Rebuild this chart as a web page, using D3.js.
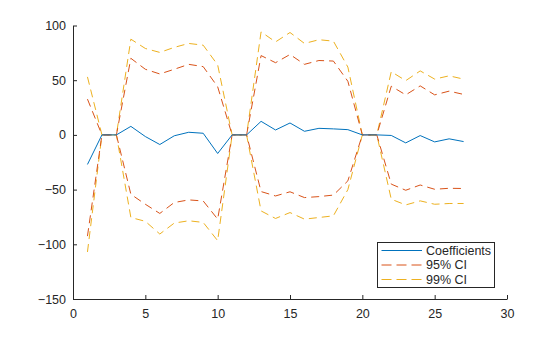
<!DOCTYPE html>
<html>
<head>
<meta charset="utf-8">
<script src="https://cdn.jsdelivr.net/npm/d3@7/dist/d3.min.js"></script>
<style>
  html, body { margin: 0; padding: 0; background: #fff; }
  svg { display: block; font-family: "Liberation Sans", Arial, sans-serif; }
</style>
</head>
<body>
<svg id="chart" width="560" height="337"></svg>
<script>
// Lag index 1..27
const lags = d3.range(1, 28);

// Estimated coefficients per lag
const coefficients = [-27, 0, 0, 7.8, -1.5, -8.8, -0.8, 2.4, 1.5, -17, 0, 0,
  12.4, 4.5, 10.9, 3.3, 6, 5.5, 4.8, 0, 0, -0.5, -7.3, -0.6, -6.4, -3.6, -6.1];

// 95% confidence bounds
const ci95Upper = [32.7, 0, 0, 70, 60, 55.7, 60, 64.5, 62.4, 44, 0, 0,
  72.5, 66, 73.5, 64.5, 68, 67.5, 49, 0, 0, 44.5, 36.6, 44.8, 36.6, 40, 37];
const ci95Lower = [-92.5, 0, 0, -54.3, -63.4, -71.8, -61.8, -59.4, -60.4, -77, 0, 0,
  -51.8, -55.8, -52, -57.3, -56.4, -55, -42, 0, 0, -45, -50.6, -45.8, -49.7, -48.8, -49];

// 99% confidence bounds
const ci99Upper = [53, 0, 0, 87.5, 79, 75.4, 80, 83.6, 82, 64, 0, 0,
  94.2, 85, 93.6, 83.6, 87, 85.7, 62, 0, 0, 57.8, 49.6, 58.5, 51, 54, 51];
const ci99Lower = [-107, 0, 0, -75.5, -79, -90.6, -80.6, -78.5, -80, -96.7, 0, 0,
  -69.5, -76.4, -71, -77, -75.5, -74, -50, 0, 0, -58.8, -64, -60.3, -63.4, -62.7, -62.7];

const xTicks = [0, 5, 10, 15, 20, 25, 30];
const yTicks = [-150, -100, -50, 0, 50, 100];

const seriesNames = ["Coefficients", "95% CI", "99% CI"];
const colBlue = "#0072BD", colOrange = "#D95319", colYellow = "#EDB120";
const axisColor = "#262626";
const dash = "8,5";

const svg = d3.select("#chart");
const plotLeft = 73, plotRight = 507, plotTop = 25.5, plotBottom = 299;

const x = d3.scaleLinear().domain([0, 30]).range([plotLeft, plotRight]);
const y = d3.scaleLinear().domain([-150, 100]).range([plotBottom, plotTop]);

const line = vals => d3.line()
  .x((d, i) => x(lags[i]))
  .y(d => y(d))(vals);

// Confidence bands first, coefficients on top
const series = [
  { vals: ci99Upper, color: colYellow, dash: dash },
  { vals: ci99Lower, color: colYellow, dash: dash },
  { vals: ci95Upper, color: colOrange, dash: dash },
  { vals: ci95Lower, color: colOrange, dash: dash },
  { vals: coefficients, color: colBlue, dash: null }
];
svg.append("g").selectAll("path").data(series).join("path")
  .attr("d", s => line(s.vals))
  .attr("fill", "none")
  .attr("stroke", s => s.color)
  .attr("stroke-width", 1)
  .attr("stroke-dasharray", s => s.dash);

// Axes with inward ticks
const xAxis = d3.axisBottom(x).tickValues(xTicks).tickSizeInner(-4).tickSizeOuter(0).tickPadding(8);
const yAxis = d3.axisLeft(y).tickValues(yTicks).tickSizeInner(-4).tickSizeOuter(0).tickPadding(7);

const gx = svg.append("g").attr("transform", `translate(0,${plotBottom})`).call(xAxis);
const gy = svg.append("g").attr("transform", `translate(${plotLeft},0)`).call(yAxis);
[gx, gy].forEach(g => {
  g.select(".domain").attr("stroke", axisColor).attr("stroke-width", 1);
  g.selectAll(".tick line").attr("stroke", axisColor).attr("stroke-width", 1);
  g.selectAll(".tick text").attr("fill", axisColor)
    .style("font-size", "12.5px").style("font-family", "'Liberation Sans', Arial, sans-serif");
});
gx.selectAll(".tick text").attr("dy", "0.9em");

// Legend
const lg = svg.append("g");
lg.append("rect")
  .attr("x", 377.5).attr("y", 242.5).attr("width", 117).attr("height", 45)
  .attr("fill", "#fff").attr("stroke", axisColor).attr("stroke-width", 1);
const legendItems = [
  { name: seriesNames[0], color: colBlue, dash: null },
  { name: seriesNames[1], color: colOrange, dash: dash },
  { name: seriesNames[2], color: colYellow, dash: dash }
];
legendItems.forEach((it, i) => {
  const cy = 250.5 + i * 14.5;
  lg.append("line")
    .attr("x1", 381.5).attr("x2", 422).attr("y1", cy).attr("y2", cy)
    .attr("stroke", it.color).attr("stroke-width", 1)
    .attr("stroke-dasharray", it.dash ? "10,5" : null);
  lg.append("text")
    .attr("x", 426).attr("y", cy).attr("dy", "0.35em")
    .attr("fill", axisColor)
    .style("font-size", "12.5px")
    .text(it.name);
});
</script>
</body>
</html>
